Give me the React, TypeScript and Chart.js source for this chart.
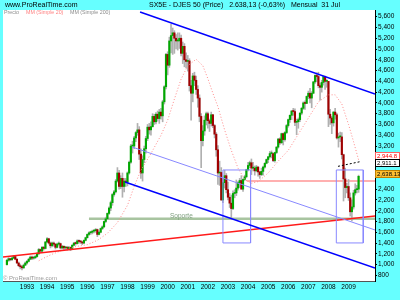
import React, { useEffect, useRef } from "react";
import { Chart, registerables } from "chart.js";

Chart.register(...registerables);

// ---- data (monthly, index 0 = Jan 1992) ----
const firstOpen = 1000;
const closes = [
  1080, 1110, 1090, 1120, 1150, 1100, 1030, 980, 960, 940, 990, 1030,
  1060, 1100, 1140, 1120, 1130, 1150, 1200, 1280, 1250, 1320, 1300, 1420,
  1480, 1400, 1350, 1400, 1380, 1320, 1380, 1390, 1310, 1340, 1310, 1320,
  1300, 1320, 1300, 1360, 1400, 1390, 1440, 1430, 1420, 1400, 1450, 1500,
  1560, 1590, 1600, 1620, 1630, 1650, 1560, 1600, 1670, 1700, 1800, 1850,
  1950, 2050, 2150, 2300, 2350, 2550, 2700, 2450, 2600, 2450, 2550, 2530,
  2700, 2900, 3200, 3200, 3350, 3450, 3500, 3050, 2700, 2950, 3150, 3340,
  3550, 3500, 3560, 3750, 3650, 3790, 3710, 3830, 3760, 4020, 4300, 4900,
  4700, 5150, 5250, 5300, 5200, 5150, 5150, 5200, 4920, 5050, 4800, 4770,
  4780, 4320, 4180, 4500, 4420, 4250, 4090, 3750, 3300, 3480, 3680, 3800,
  3670, 3620, 3780, 3580, 3420, 3130, 2700, 2710, 2200, 2520, 2650, 2390,
  2250, 2140, 2040, 2320, 2330, 2420, 2520, 2560, 2400, 2580, 2630, 2760,
  2840, 2890, 2790, 2790, 2740, 2810, 2720, 2670, 2730, 2810, 2880, 2950,
  3000, 3060, 3060, 2930, 3080, 3180, 3330, 3260, 3430, 3320, 3450, 3580,
  3690, 3770, 3850, 3840, 3640, 3650, 3690, 3810, 3900, 4000, 3990, 4120,
  4180, 4090, 4180, 4390, 4510, 4490, 4320, 4290, 4380, 4490, 4400, 4400,
  3790, 3720, 3630, 3830, 3780, 3350, 3370, 3370, 3040, 2590, 2430, 2450,
  2240, 1980, 2070, 2330, 2390, 2400, 2638,
];
const highs = [
  1100, 1130, 1120, 1140, 1170, 1160, 1110, 1050, 1010, 980, 1010, 1050,
  1080, 1120, 1160, 1160, 1150, 1170, 1220, 1300, 1290, 1340, 1340, 1430,
  1500, 1490, 1420, 1420, 1420, 1390, 1400, 1420, 1400, 1360, 1350, 1340,
  1340, 1340, 1330, 1370, 1410, 1420, 1460, 1460, 1450, 1430, 1460, 1510,
  1570, 1610, 1620, 1640, 1650, 1670, 1660, 1620, 1680, 1720, 1810, 1880,
  1960, 2070, 2180, 2320, 2380, 2580, 2800, 2750, 2650, 2700, 2600, 2600,
  2720, 2920, 3230, 3290, 3380, 3470, 3620, 3560, 3150, 3020, 3200, 3380,
  3600, 3620, 3650, 3800, 3790, 3820, 3850, 3880, 3900, 4050, 4320, 4920,
  4950, 5220, 5460, 5390, 5340, 5270, 5300, 5300, 5260, 5130, 5100, 4930,
  4880, 4820, 4420, 4550, 4570, 4500, 4320, 4150, 3800, 3580, 3760, 3830,
  3830, 3700, 3830, 3790, 3600, 3450, 3210, 2920, 2800, 2600, 2750, 2690,
  2530, 2320, 2290, 2370, 2390, 2570, 2540, 2600, 2650, 2590, 2660, 2770,
  2900, 2920, 2960, 2900, 2830, 2840, 2820, 2730, 2790, 2830, 2890, 2960,
  3010, 3100, 3110, 3070, 3090, 3190, 3340, 3350, 3440, 3440, 3470, 3600,
  3700, 3780, 3860, 3900, 3890, 3700, 3720, 3820, 3920, 4020, 4040, 4130,
  4220, 4270, 4210, 4400, 4520, 4560, 4570, 4360, 4420, 4500, 4500, 4430,
  4400, 3880, 3750, 3840, 3900, 3810, 3440, 3460, 3450, 3050, 2790, 2510,
  2580, 2330, 2200, 2380, 2500, 2470, 2660,
];
const lows = [
  990, 1060, 1070, 1080, 1110, 1090, 1020, 960, 920, 900, 930, 980,
  1010, 1050, 1090, 1090, 1100, 1110, 1140, 1190, 1220, 1240, 1270, 1290,
  1410, 1380, 1310, 1330, 1340, 1290, 1310, 1360, 1290, 1290, 1280, 1280,
  1270, 1280, 1260, 1290, 1350, 1360, 1380, 1400, 1390, 1370, 1390, 1440,
  1490, 1540, 1560, 1570, 1590, 1600, 1520, 1550, 1590, 1650, 1690, 1780,
  1840, 1930, 2000, 2100, 2270, 2330, 2530, 2400, 2410, 2250, 2350, 2450,
  2460, 2680, 2880, 3070, 3150, 3280, 3400, 2950, 2600, 2550, 2890, 3070,
  3300, 3420, 3400, 3550, 3600, 3610, 3660, 3620, 3700, 3650, 3980, 4260,
  4520, 4660, 4930, 4900, 4920, 5000, 4980, 5010, 4870, 4730, 4670, 4650,
  4590, 4220, 3680, 4020, 4320, 4160, 3920, 3650, 2800, 3200, 3400, 3590,
  3530, 3470, 3570, 3540, 3350, 3010, 2490, 2470, 2190, 2150, 2420, 2330,
  2200, 2060, 1850, 2020, 2240, 2280, 2380, 2430, 2400, 2360, 2560, 2610,
  2740, 2800, 2670, 2740, 2660, 2720, 2640, 2600, 2650, 2660, 2790, 2870,
  2890, 2980, 2980, 2910, 2900, 3060, 3160, 3230, 3250, 3220, 3290, 3430,
  3550, 3640, 3690, 3770, 3580, 3410, 3530, 3650, 3780, 3880, 3880, 3990,
  4080, 4000, 3910, 4170, 4360, 4390, 4280, 4050, 4200, 4330, 4250, 4290,
  3560, 3600, 3430, 3570, 3700, 3330, 3180, 3280, 2960, 2180, 2240, 2330,
  2190, 1900, 1810, 2030, 2290, 2330, 2340,
];

// MM (Simple 20)
const maSimple20 = [
  { x: 19, y: 1070 }, { x: 22, y: 1120 }, { x: 26, y: 1180 }, { x: 30, y: 1230 },
  { x: 36, y: 1300 }, { x: 42, y: 1340 }, { x: 48, y: 1370 }, { x: 54, y: 1450 },
  { x: 60, y: 1580 }, { x: 66, y: 1780 }, { x: 72, y: 2100 }, { x: 76, y: 2450 },
  { x: 80, y: 2750 }, { x: 86, y: 3060 }, { x: 92, y: 3400 }, { x: 96, y: 3680 },
  { x: 100, y: 4070 }, { x: 104, y: 4440 }, { x: 108, y: 4690 }, { x: 113, y: 4810 },
  { x: 117, y: 4690 }, { x: 120, y: 4450 }, { x: 123, y: 4180 }, { x: 126, y: 3930 },
  { x: 130, y: 3500 }, { x: 134, y: 3120 }, { x: 138, y: 2790 }, { x: 142, y: 2580 },
  { x: 146, y: 2510 }, { x: 150, y: 2540 }, { x: 156, y: 2700 }, { x: 162, y: 2920 },
  { x: 168, y: 3120 }, { x: 174, y: 3420 }, { x: 180, y: 3720 }, { x: 186, y: 4020 },
  { x: 192, y: 4150 }, { x: 196, y: 4150 }, { x: 200, y: 3980 }, { x: 204, y: 3600 },
  { x: 207, y: 3280 }, { x: 210, y: 2944 },
];

// drawn trend lines / zones
const upperChannel = [{ x: 79.5, y: 5687 }, { x: 219.8, y: 4166 }];
const lowerChannel = [{ x: 70.5, y: 2533 }, { x: 219.8, y: 938 }];
const middleLine = [{ x: 74.7, y: 3183 }, { x: 219.8, y: 1643 }];
const redSupport = [{ x: -2.33, y: 1142 }, { x: 219.8, y: 1902 }];
const soporteLevel = [{ x: 49, y: 1850 }, { x: 219.8, y: 1850 }];
const pinkLevel = [{ x: 143.2, y: 2552 }, { x: 219.8, y: 2552 }];
const dashedSegment = [{ x: 197.7, y: 2823 }, { x: 210.9, y: 2910 }];
const zone1 = { x1: 129, x2: 145.5, lo: 1402, hi: 2756 };
const zone2 = { x1: 196.7, x2: 212.8, lo: 1402, hi: 2756 };

const yearLabels = ["1993", "1994", "1995", "1996", "1997", "1998", "1999", "2000", "2001", "2002", "2003", "2004", "2005", "2006", "2007", "2008", "2009"];
const yearTickIndex = [12, 24, 36, 48, 60, 72, 84, 96, 108, 120, 132, 144, 156, 168, 180, 192, 204];
const priceTicks = [5600, 5400, 5200, 5000, 4800, 4600, 4400, 4200, 4000, 3800, 3600, 3400, 3200, 2400, 2200, 2000, 1800, 1600, 1400, 1200, 1000, 800];
const boxMM20 = { value: 2944.8, text: "2,944.8" };
const boxLine = { value: 2911.1, text: "2,911.1" };
const boxPrice = { value: 2638.13, text: "2,638.13" };

const titleSite = "www.ProRealTime.com";
const titleMain = "SX5E - DJES 50 (Price)   2.638,13 (-0,63%)   Mensual  31 Jul";
const legendItems = [
  { text: "Precio", color: "#8c8c8c", x: 4 },
  { text: "MM (Simple 20)", color: "#ff7f7f", x: 26 },
  { text: "MM (Simple 200)", color: "#8c8c8c", x: 70 },
];

const CYAN = "#66ffff";
const FONT = '"Liberation Sans", Arial, sans-serif';

function fmt(v: number): string {
  if (v < 1000) return String(v);
  return Math.floor(v / 1000) + "," + String(v % 1000).padStart(3, "0");
}

function rect(z: { x1: number; x2: number; lo: number; hi: number }) {
  return [
    { x: z.x1, y: z.hi }, { x: z.x2, y: z.hi }, { x: z.x2, y: z.lo },
    { x: z.x1, y: z.lo }, { x: z.x1, y: z.hi },
  ];
}

const decorPlugin = {
  id: "decor",
  beforeDraw(chart: any) {
    const { ctx, chartArea: a } = chart;
    ctx.save();
    ctx.fillStyle = CYAN;
    ctx.fillRect(0, 0, chart.width, chart.height);
    ctx.fillStyle = "#ffffff";
    ctx.fillRect(a.left, a.top, a.right - a.left, a.bottom - a.top);
    ctx.textBaseline = "middle";
    ctx.textAlign = "left";
    ctx.fillStyle = "#000";
    ctx.font = "7px " + FONT;
    ctx.fillText(titleSite, 5, 5.5);
    ctx.fillText(titleMain, 149, 5.5);
    ctx.font = "5.3px " + FONT;
    legendItems.forEach((it) => {
      ctx.fillStyle = it.color;
      ctx.fillText(it.text, it.x, 12.5);
    });
    ctx.restore();
  },
  afterDatasetsDraw(chart: any) {
    const { ctx, scales } = chart;
    ctx.save();
    ctx.textBaseline = "middle";
    ctx.textAlign = "left";
    ctx.font = "6.5px " + FONT;
    ctx.fillStyle = "#7f9f7f";
    ctx.fillText("Soporte", 170, scales.y.getPixelForValue(1850) - 3);
    ctx.font = "6px " + FONT;
    ctx.fillStyle = "#999999";
    ctx.fillText("\u00a9 ProRealTime.com", 3, 278);
    ctx.restore();
  },
  afterDraw(chart: any) {
    const { ctx, scales } = chart;
    const y = scales.y;
    const x0 = 375.5;
    const w = 24;
    const h = 7;
    const boxes = [
      { b: boxMM20, dy: -3.5, fill: "#ffffff", stroke: "#ff6060", color: "#ff0000" },
      { b: boxLine, dy: 1.5, fill: "#ffffff", stroke: "#000000", color: "#000000" },
      { b: boxPrice, dy: -2, fill: "#ffbf30", stroke: "#c08000", color: "#000000" },
    ];
    ctx.save();
    ctx.font = "6px " + FONT;
    ctx.textBaseline = "middle";
    ctx.textAlign = "left";
    boxes.forEach((bx) => {
      const cy = Math.round(y.getPixelForValue(bx.b.value) + bx.dy);
      ctx.fillStyle = bx.fill;
      ctx.fillRect(x0, cy - h / 2, w, h);
      ctx.strokeStyle = bx.stroke;
      ctx.lineWidth = 1;
      ctx.strokeRect(x0, cy - h / 2, w, h);
      ctx.fillStyle = bx.color;
      ctx.fillText(bx.b.text, x0 + 1.5, cy + 0.5);
    });
    ctx.restore();
  },
};

export default function App() {
  const ref = useRef<HTMLCanvasElement>(null);
  useEffect(() => {
    const opens = closes.map((c, i) => (i === 0 ? firstOpen : closes[i - 1]));
    const wicks = closes.map((_, i) => ({ x: i, y: [lows[i], highs[i]] }));
    const bodies = closes.map((c, i) => ({ x: i, y: [opens[i], c] }));
    const bodyColors = closes.map((c, i) => (c >= opens[i] ? "#00a800" : "#a00000"));
    const line = (data: any[], color: string, width: number, dash: number[] = []) => ({
      type: "line" as const,
      data,
      borderColor: color,
      borderWidth: width,
      borderDash: dash,
      pointRadius: 0,
      fill: false,
      tension: 0,
    });
    Chart.defaults.font.family = FONT;
    const chart = new Chart(ref.current as HTMLCanvasElement, {
      type: "bar",
      data: {
        datasets: [
          line(upperChannel, "#0000ff", 1.5),
          line(lowerChannel, "#0000ff", 1.5),
          line(middleLine, "#8888ff", 1),
          line(rect(zone1), "#8888ff", 1),
          line(rect(zone2), "#8888ff", 1),
          line(dashedSegment, "#000000", 1, [2, 2]),
          line(redSupport, "#ff1a1a", 1.5),
          line(maSimple20, "#ff8c8c", 1, [1, 2]),
          {
            type: "bar" as const,
            data: bodies as any,
            backgroundColor: bodyColors,
            borderWidth: 0,
            barThickness: 1.5,
            grouped: false,
            minBarLength: 1,
          },
          {
            type: "bar" as const,
            data: wicks as any,
            backgroundColor: "#b0b0b0",
            borderWidth: 0,
            barThickness: 1,
            grouped: false,
          },
          line(pinkLevel, "#ffb0b0", 2),
          line(soporteLevel, "#a8c4a0", 2.5),
        ] as any,
      },
      options: {
        responsive: false,
        animation: false,
        devicePixelRatio: 1,
        events: [],
        layout: { padding: { left: 3, top: 10, right: 0, bottom: 0 } },
        plugins: { legend: { display: false }, tooltip: { enabled: false } },
        scales: {
          x: {
            type: "linear",
            min: -2.33,
            max: 219.8,
            offset: false,
            grid: { display: false, drawTicks: false },
            border: { display: true, color: "#555555" },
            afterBuildTicks: (s: any) => {
              s.ticks = yearTickIndex.map((v) => ({ value: v }));
            },
            afterFit: (s: any) => {
              s.height = 19;
            },
            ticks: {
              autoSkip: false,
              maxRotation: 0,
              padding: 2,
              color: "#000000",
              font: { size: 6.5, family: FONT },
              callback: (v: any) => yearLabels[yearTickIndex.indexOf(Number(v))] ?? "",
            },
          },
          y: {
            type: "linear",
            position: "right",
            min: 696,
            max: 5724,
            grid: { drawOnChartArea: false, drawTicks: true, tickLength: 2, color: "#000000" },
            border: { display: true, color: "#000000" },
            afterBuildTicks: (s: any) => {
              s.ticks = priceTicks.map((v) => ({ value: v }));
            },
            afterFit: (s: any) => {
              s.width = 25;
            },
            ticks: {
              autoSkip: false,
              padding: 1,
              color: "#000000",
              font: { size: 6.5, family: FONT },
              callback: (v: any) => fmt(Number(v)),
            },
          },
        },
      } as any,
      plugins: [decorPlugin],
    });
    return () => chart.destroy();
  }, []);
  return (
    <div style={{ position: "fixed", left: 0, top: 0, width: 400, height: 300, background: CYAN }}>
      <canvas ref={ref} width={400} height={300} style={{ display: "block", width: 400, height: 300 }} />
    </div>
  );
}
